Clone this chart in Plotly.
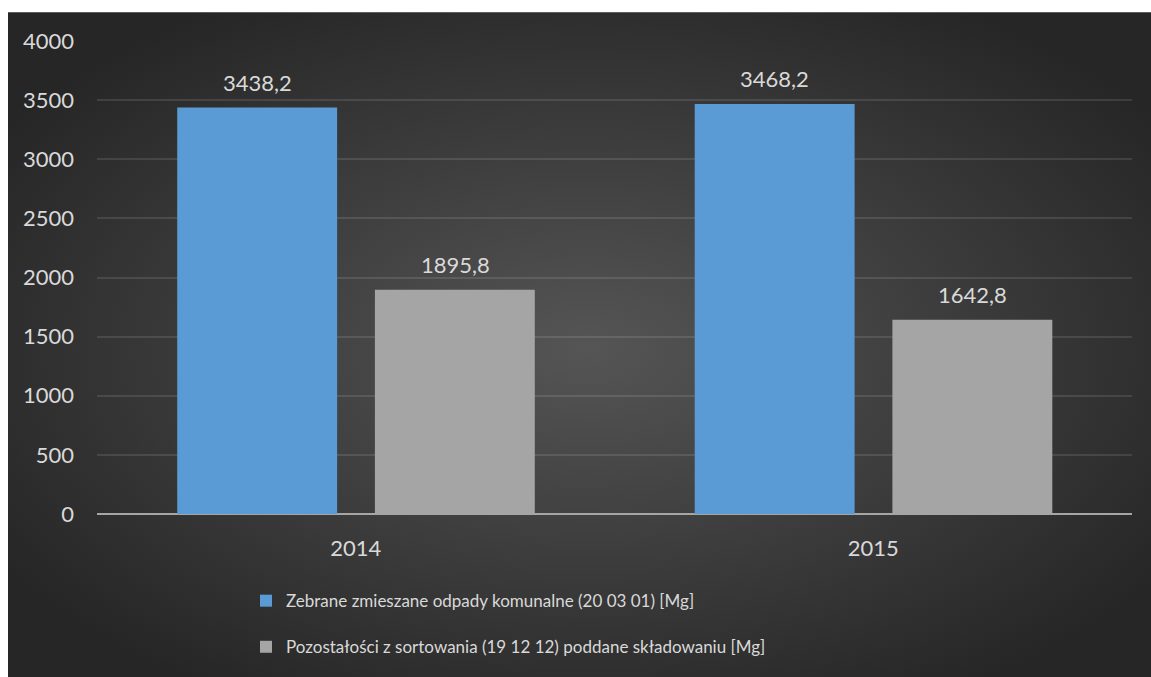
import plotly.graph_objects as go

categories = ["2014", "2015"]
series_names = [
    "Zebrane zmieszane odpady komunalne (20 03 01) [Mg]",
    "Pozostałości z sortowania (19 12 12) poddane składowaniu [Mg]",
]
collected = [3438.2, 3468.2]
residues = [1895.8, 1642.8]
y_ticks = [0, 500, 1000, 1500, 2000, 2500, 3000, 3500, 4000]

FONT = "Lato, sans-serif"
TXT = "#d9d9d9"
colors = ["#5b9bd5", "#a5a5a5"]
offsets = [-0.345, 0.037]
bar_w = 0.309
label_shift = [-98.75, 99.25]

W, H = 1151, 677
L, R, T, B = 97, 19, 41, 157
PW, PH = W - L - R, H - T - B
BG_X, BG_Y = 8, 12
EXTRA = 16  # let the background run past the figure edges

fig = go.Figure()
for name, vals, col, off in zip(series_names, [collected, residues], colors, offsets):
    fig.add_trace(go.Bar(
        x=categories, y=vals, name=name,
        marker=dict(color=col, line=dict(width=0)),
        width=bar_w, offset=off,
        legendgroup=name,
    ))

annotations = []
for vals, sh in zip([collected, residues], label_shift):
    for i, v in enumerate(vals):
        annotations.append(dict(
            x=i, y=v, xref="x", yref="y",
            text=f"{v:.1f}".replace(".", ","),
            showarrow=False, xshift=sh, yshift=25,
            font=dict(family=FONT, size=22, color=TXT),
        ))

bw, bh = W - BG_X + EXTRA, H - BG_Y + EXTRA
bg_svg = (
    "data:image/svg+xml;utf8,"
    f"<svg xmlns='http://www.w3.org/2000/svg' width='{bw}' height='{bh}'>"
    "<defs><radialGradient id='g' cx='50%' cy='50%' r='60%'>"
    "<stop offset='0%' stop-color='%23555555'/>"
    "<stop offset='100%' stop-color='%23262626'/>"
    "</radialGradient></defs>"
    f"<rect width='{bw}' height='{bh}' fill='url(%23g)'/></svg>"
)

# white page border on the left and top edges
border_shapes = [
    dict(type="rect", xref="paper", yref="paper", layer="below",
         x0=(-L - 20) / PW, x1=(BG_X - L) / PW, y0=(-B - 40) / PH, y1=(PH + T + 20) / PH,
         fillcolor="white", line=dict(width=0)),
    dict(type="rect", xref="paper", yref="paper", layer="below",
         x0=(-L - 20) / PW, x1=(W - L + 40) / PW, y0=(PH + T - BG_Y) / PH, y1=(PH + T + 20) / PH,
         fillcolor="white", line=dict(width=0)),
]

fig.update_layout(
    width=W, height=H,
    margin=dict(l=L, r=R, t=T, b=B, pad=0),
    paper_bgcolor="#262626",
    plot_bgcolor="rgba(0,0,0,0)",
    separators=", ",
    barmode="group",
    font=dict(family=FONT, size=20, color=TXT),
    annotations=annotations,
    shapes=border_shapes,
    images=[dict(
        source=bg_svg, xref="paper", yref="paper",
        x=(BG_X - L) / PW, y=(PH + T - BG_Y) / PH,
        sizex=bw / PW, sizey=bh / PH,
        xanchor="left", yanchor="top", sizing="stretch", layer="below",
    )],
    xaxis=dict(
        type="category", range=[-0.5, 1.5],
        showgrid=False, zeroline=False, showline=False,
        ticks="", ticklabelstandoff=19,
        tickfont=dict(family=FONT, size=22, color=TXT),
    ),
    yaxis=dict(
        range=[0, 4000], tickvals=y_ticks,
        showgrid=True, gridcolor="rgba(255,255,255,0.11)", gridwidth=2,
        zeroline=True, zerolinecolor="#a6a6a6", zerolinewidth=2,
        showline=False, ticks="", ticklabelstandoff=22,
        tickfont=dict(family=FONT, size=22, color=TXT),
    ),
    legend=dict(
        orientation="v", x=(246 - L) / PW, y=(PH + T - 590) / PH,
        xanchor="left", yanchor="top",
        bgcolor="rgba(0,0,0,0)",
        font=dict(family=FONT, size=17, color=TXT),
        traceorder="grouped", tracegroupgap=21,
        itemwidth=30,
    ),
    showlegend=True,
)

fig.write_html("out.html", config={"displayModeBar": False},
               post_script="document.body.style.margin='0';")
